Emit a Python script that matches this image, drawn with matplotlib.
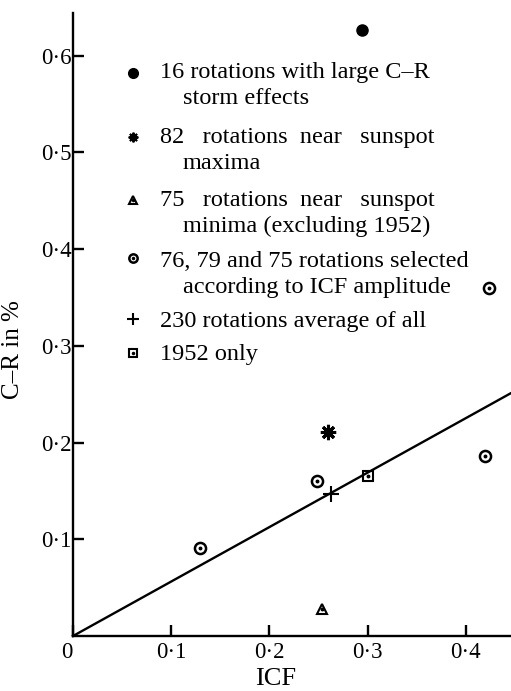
import matplotlib
matplotlib.use('Agg')
import matplotlib.pyplot as plt
import numpy as np

plt.rcParams['font.family'] = ['Liberation Serif', 'DejaVu Serif']

# data (ICF, C-R in %)
storm_x = [0.294]
storm_y = [0.626]
max_x = [0.260]
max_y = [0.211]
min_x = [0.254]
min_y = [0.028]
sel_x = [0.129, 0.248, 0.420, 0.424]
sel_y = [0.091, 0.160, 0.186, 0.360]
all_x = [0.263]
all_y = [0.147]
y1952_x = [0.300]
y1952_y = [0.165]
fit_slope = 0.563

xticks = [0, 0.1, 0.2, 0.3, 0.4]
yticks = [0.1, 0.2, 0.3, 0.4, 0.5, 0.6]

W, H = 511, 691
fig = plt.figure(figsize=(W/100, H/100), dpi=100)
ax = fig.add_axes([73/W, 55/H, (W-73)/W, 623/H])
ax.set_xlim(0, 0.446)
ax.set_ylim(0, 0.644)

for s in ['top', 'right']:
    ax.spines[s].set_visible(False)
for s in ['left', 'bottom']:
    ax.spines[s].set_linewidth(1.7)

ax.set_xticks(xticks)
ax.set_xticklabels(['0'] + ['{:.1f}'.format(v).replace('.', '·') for v in xticks[1:]])
ax.set_yticks(yticks)
ax.set_yticklabels(['{:.1f}'.format(v).replace('.', '·') for v in yticks])
ax.tick_params(axis='x', direction='in', length=8, width=1.7, labelsize=16.5, pad=4)
ax.tick_params(axis='y', direction='in', length=8, width=1.7, labelsize=16.5, pad=1)
ax.get_xticklabels()[0].set_ha('right')

ax.set_xlabel('ICF', fontsize=19)
ax.set_ylabel('C–R in %', fontsize=18)
ax.xaxis.set_label_coords(0.462, -0.052)
ax.yaxis.set_label_coords(-0.112, 0.459)

# fit line through origin
fx = np.array(ax.get_xlim())
ax.plot(fx, fit_slope*fx, color='black', lw=1.7, clip_on=False)

k = 'black'
styles = {
    'storm': dict(marker='o', ms=8, mfc=k, mec=k),
    'max': dict(marker=(8, 2, 0), ms=11, mec=k, mew=2.2),
    'min': dict(marker='^', ms=7, mfc='none', mec=k, mew=1.5),
    'sel': dict(marker='o', ms=8, mfc='none', mec=k, mew=1.8),
    'all': dict(marker='+', ms=11, mec=k, mew=1.5),
    'y1952': dict(marker='s', ms=7, mfc='none', mec=k, mew=1.5),
}
dotted = ['min', 'sel', 'y1952']

series = [('storm', storm_x, storm_y), ('max', max_x, max_y), ('min', min_x, min_y),
          ('sel', sel_x, sel_y), ('all', all_x, all_y), ('y1952', y1952_x, y1952_y)]
for name, xs, ys in series:
    ax.plot(xs, ys, ls='none', clip_on=False, **styles[name])
    if name in dotted:
        ax.plot(xs, ys, ls='none', marker='o', ms=1.8, color=k, clip_on=False)

# legend drawn by hand (marker on first line, hanging indent)
leg_labels = [
    ('16 rotations with large C–R', 'storm effects'),
    ('82   rotations  near   sunspot', 'maxima'),
    ('75   rotations  near   sunspot', 'minima (excluding 1952)'),
    ('76, 79 and 75 rotations selected', 'according to ICF amplitude'),
    ('230 rotations average of all', None),
    ('1952 only', None),
]
leg_mark_y = [73, 137, 200, 258, 319, 353]
leg_base1 = [78, 143, 206, 267, 327, 360]
leg_base2 = [104, 169, 232, 293, None, None]
leg_small = {'storm': 7, 'max': 7, 'min': 6, 'sel': 6, 'all': 8, 'y1952': 6}
leg_fs = 17.5

def fp(px, py):
    return px/W, 1 - py/H

for i, (name, _, _) in enumerate(series):
    st = dict(styles[name])
    st['ms'] = leg_small[name]
    if name == 'max':
        st['mew'] = 1.4
    mx, my = fp(133, leg_mark_y[i])
    fig.add_artist(plt.Line2D([mx], [my], ls='none', transform=fig.transFigure, **st))
    if name in dotted:
        fig.add_artist(plt.Line2D([mx], [my], ls='none', marker='o', ms=1.5, color=k,
                                  transform=fig.transFigure))
    l1, l2 = leg_labels[i]
    tx, ty = fp(160, leg_base1[i])
    fig.text(tx, ty, l1, fontsize=leg_fs, va='baseline', ha='left')
    if l2:
        tx, ty = fp(183, leg_base2[i])
        fig.text(tx, ty, l2, fontsize=leg_fs, va='baseline', ha='left')

fig.savefig('out.png', dpi=100)
